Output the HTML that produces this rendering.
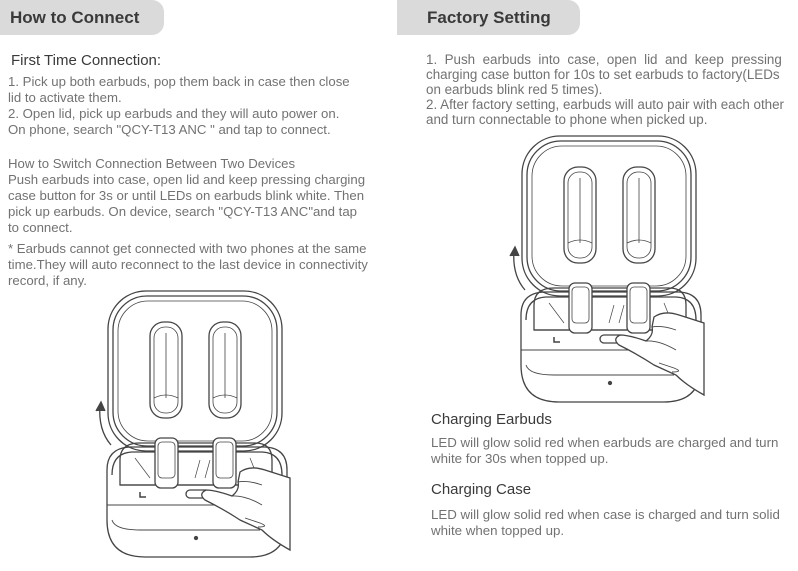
<!DOCTYPE html>
<html><head><meta charset="utf-8"><style>
body{margin:0;width:798px;height:571px;background:#fff;position:relative;overflow:hidden;font-family:"Liberation Sans",sans-serif;}
.tab{position:absolute;top:0;height:35px;background:#dadada;border-radius:0 12px 12px 0;color:#3a3a3a;font-weight:bold;font-size:17px;line-height:35px;}
.t{position:absolute;color:#727272;font-size:13.2px;line-height:16px;white-space:nowrap;}
.h{position:absolute;color:#3a3a3a;font-size:15px;}
</style></head><body>
<div class="tab" style="left:0;width:164px;padding-left:10px;box-sizing:border-box;">How to Connect</div>
<div class="tab" style="left:397px;width:183px;padding-left:30px;box-sizing:border-box;">Factory Setting</div>

<div class="h" style="left:11px;top:52px;">First Time Connection:</div>
<div class="t" style="left:8px;top:74px;">1. Pick up both earbuds, pop them back in case then close<br>lid to activate them.<br>2. Open lid, pick up earbuds and they will auto power on.<br>On phone, search "QCY-T13 ANC " and tap to connect.</div>
<div class="t" style="left:8px;top:156px;">How to Switch Connection Between Two Devices<br>Push earbuds into case, open lid and keep pressing charging<br>case button for 3s or until LEDs on earbuds blink white. Then<br>pick up earbuds. On device, search "QCY-T13 ANC"and tap<br>to connect.</div>
<div class="t" style="left:8px;top:241px;">* Earbuds cannot get connected with two phones at the same<br>time.They will auto reconnect to the last device in connectivity<br>record, if any.</div>

<div class="t" style="left:426px;top:52px;line-height:15px;font-size:13.4px;">1.&nbsp; Push&nbsp; earbuds&nbsp; into&nbsp; case,&nbsp; open&nbsp; lid&nbsp; and&nbsp; keep&nbsp; pressing<br>charging case button for 10s to set earbuds to factory(LEDs<br>on earbuds blink red 5 times).<br>2. After factory setting, earbuds will auto pair with each other<br>and turn connectable to phone when picked up.</div>

<div class="h" style="left:431px;top:411px;">Charging Earbuds</div>
<div class="t" style="left:431px;top:435px;font-size:13.3px;">LED will glow solid red when earbuds are charged and turn<br>white for 30s when topped up.</div>
<div class="h" style="left:431px;top:481px;">Charging Case</div>
<div class="t" style="left:431px;top:507px;font-size:13.3px;">LED will glow solid red when case is charged and turn solid<br>white when topped up.</div>

<svg width="798" height="571" style="position:absolute;left:0;top:0" fill="none" stroke="#444" stroke-width="1.3">
<defs>
<g id="cs">
 <rect x="108" y="291" width="174" height="160" rx="38"/>
 <rect x="113" y="296" width="164" height="150" rx="34"/>
 <rect x="118" y="301" width="154" height="140" rx="30" stroke-width="0.8"/>
 <rect x="150" y="322" width="32" height="96" rx="14"/>
 <rect x="154" y="327" width="24" height="86" rx="11" stroke-width="0.8"/>
 <line x1="166" y1="333" x2="166" y2="398" stroke-width="0.8"/>
 <path d="M154 398 Q166 392 178 398" stroke-width="0.8"/>
 <rect x="209" y="322" width="32" height="96" rx="14"/>
 <rect x="213" y="327" width="24" height="86" rx="11" stroke-width="0.8"/>
 <line x1="225" y1="333" x2="225" y2="398" stroke-width="0.8"/>
 <path d="M213 398 Q225 392 237 398" stroke-width="0.8"/>
 <path d="M107 470 Q107 448 130 447 L265 447 Q287 448 287 470 L287 520 Q287 557 250 557 L145 557 Q107 557 107 520 Z"/>
 <path d="M112 475 Q112 453 132 452 L262 452 Q282 453 282 475"/>
 <path d="M120 460 Q120 443 140 443 L255 443 Q272 443 272 460 L272 485 L120 485 Z"/>
 <line x1="120" y1="485" x2="272" y2="485"/>
 <path d="M135 458 L150 478 M200 460 L195 478 M210 460 L205 478 M250 458 L258 478" stroke-width="0.7"/>
 <rect x="155" y="438" width="23" height="50" rx="6" fill="#fff"/>
 <rect x="158" y="442" width="17" height="36" rx="4" stroke-width="0.8"/>
 <rect x="213" y="438" width="23" height="50" rx="6" fill="#fff"/>
 <rect x="216" y="442" width="17" height="36" rx="4" stroke-width="0.8"/>
 <path d="M107 505 L287 505 M112 520 Q115 530 140 530 L260 530" stroke-width="0.9"/>
 <path d="M140 492 L140 497 L146 497" stroke-width="1.5"/>
 <rect x="186" y="490" width="24" height="8" rx="4"/>
 <circle cx="196" cy="538" r="1.5" fill="#444"/>
 <path d="M240 472 Q250 465 265 470 L290 478 L290 550 Q272 540 262 530 L240 520 Q225 510 205 500 Q198 494 206 490 Q215 490 232 496 Q240 490 238 482 Z" fill="#fff"/>
 <path d="M238 482 Q248 480 262 485 M232 496 Q245 495 262 505 M245 518 L260 523 Q270 527 258 527" stroke-width="0.9"/>
 <path d="M111 445 Q98 430 100 405" />
 <path d="M96 411 L101 402 L105 411" fill="#444"/>
</g>
</defs>
<use href="#cs"/>
<use href="#cs" transform="translate(414,-155)"/>
</svg>
</body></html>
